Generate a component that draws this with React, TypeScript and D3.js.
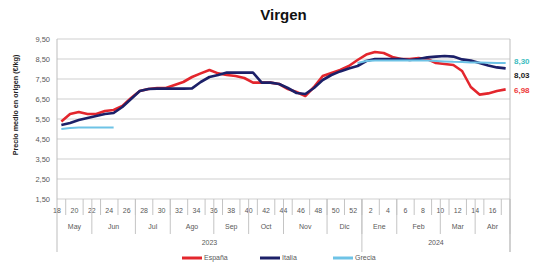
import React from 'react';
import * as d3 from 'd3';

// semanas: 2023 (18-52) y 2024 (1-17)
const weeks = [
  18, 19, 20, 21, 22, 23, 24, 25, 26, 27, 28, 29, 30, 31, 32, 33, 34, 35, 36, 37, 38, 39, 40, 41, 42, 43, 44, 45, 46, 47, 48, 49, 50, 51, 52,
  1, 2, 3, 4, 5, 6, 7, 8, 9, 10, 11, 12, 13, 14, 15, 16, 17,
];
const months = ['May', 'Jun', 'Jul', 'Ago', 'Sep', 'Oct', 'Nov', 'Dic', 'Ene', 'Feb', 'Mar', 'Abr'];
const monthWeeks = [4, 5, 4, 5, 4, 4, 5, 4, 4, 5, 4, 4];
const years = ['2023', '2024'];
const yearWeeks = [35, 17];

const espana = [
  5.37, 5.75, 5.85, 5.75, 5.75, 5.9, 5.95, 6.15, 6.55, 6.9, 7.0, 7.05, 7.05, 7.2, 7.35, 7.6, 7.78, 7.95,
  7.78, 7.7, 7.65, 7.55, 7.32, 7.32, 7.32, 7.25, 7.0, 6.85, 6.65, 7.1, 7.65, 7.8, 7.95, 8.15, 8.45,
  8.72, 8.85, 8.8, 8.6, 8.5, 8.5, 8.55, 8.5, 8.3, 8.25, 8.2, 7.9, 7.1, 6.72, 6.78, 6.9, 6.98,
];
const italia = [
  5.2, 5.3, 5.45, 5.55, 5.65, 5.75, 5.8, 6.1, 6.5, 6.9, 7.0, 7.02, 7.02, 7.02, 7.02, 7.03, 7.35, 7.6,
  7.7, 7.82, 7.82, 7.82, 7.82, 7.32, 7.32, 7.25, 7.05, 6.8, 6.75, 7.05, 7.45, 7.7, 7.88, 8.03, 8.15,
  8.4, 8.5, 8.5, 8.5, 8.5, 8.45, 8.5, 8.58, 8.62, 8.65, 8.62, 8.48, 8.42, 8.3, 8.18, 8.08, 8.03,
];
const grecia: (number | null)[] = [
  5.0, 5.05, 5.08, 5.08, 5.08, 5.08, 5.08, null, null, null, null, null, null, null, null, null, null, null,
  null, null, null, null, null, null, null, null, null, null, null, null, null, null, null, null, 8.3,
  8.4, 8.42, 8.42, 8.42, 8.42, 8.42, 8.42, 8.42, 8.4, 8.38, 8.36, 8.35, 8.33, 8.32, 8.31, 8.3, 8.3,
];
const yTicks = [1.5, 2.5, 3.5, 4.5, 5.5, 6.5, 7.5, 8.5, 9.5];

const series = [
  { name: 'España', values: espana, color: '#e3262d', width: 2.6, label: '6,98', labelColor: '#ee3a3a', dy: 1 },
  { name: 'Italia', values: italia, color: '#1c2068', width: 2.6, label: '8,03', labelColor: '#1a1a1a', dy: 7 },
  { name: 'Grecia', values: grecia, color: '#6ec3e6', width: 2, label: '8,30', labelColor: '#3dbdc0', dy: -2 },
];

const font = '"Liberation Sans", Arial, sans-serif';
const grey = '#595959';

export default function App() {
  const left = 57;
  const right = 510;
  const top = 39;
  const bottom = 199;

  const x = d3.scaleBand<number>().domain(d3.range(weeks.length)).range([left, right]).paddingInner(0).paddingOuter(0);
  const bw = x.bandwidth();
  const y = d3.scaleLinear().domain([1.5, 9.5]).range([bottom, top]);
  const fmt = (v: number) => v.toFixed(2).replace('.', ',');

  const line = d3
    .line<number | null>()
    .defined((d) => d !== null)
    .x((_, i) => (x(i) as number) + bw / 2)
    .y((d) => y(d as number));

  const monthEdges = d3.cumsum(monthWeeks);
  const monthStarts = [0, ...Array.from(monthEdges).slice(0, -1)];
  const yearEdges = d3.cumsum(yearWeeks);
  const yearStarts = [0, ...Array.from(yearEdges).slice(0, -1)];
  const edge = (i: number) => (i >= weeks.length ? right : (x(i) as number));

  const legendPos = [182, 260, 333];

  return (
    <svg width={534} height={268} style={{ position: 'absolute', left: 0, top: 0, background: '#fff' }} fontFamily={font}>
      <text x={(left + right) / 2} y={20} textAnchor="middle" fontSize={15} fontWeight="bold" fill="#111">
        Virgen
      </text>

      {yTicks.map((t) => (
        <g key={t}>
          <line x1={left} x2={right} y1={y(t)} y2={y(t)} stroke="#cfcfcf" strokeWidth={1} />
          <text x={50} y={y(t)} dy="0.35em" textAnchor="end" fontSize={7.5} fill={grey}>
            {fmt(t)}
          </text>
        </g>
      ))}

      <text transform={`translate(18,${(top + bottom) / 2 - 14}) rotate(-90)`} textAnchor="middle" fontSize={7.2} fontWeight="bold" fill="#222">
        Precio medio en origen (€/kg)
      </text>

      {/* eje de categorías */}
      <line x1={left} x2={left} y1={top} y2={252} stroke="#bdbdbd" />
      <line x1={right} x2={right} y1={top} y2={252} stroke="#bdbdbd" />
      {weeks.map((w, i) =>
        i % 2 === 0 ? (
          <text key={'w' + i} x={x(i) as number} y={211} dy="0.35em" textAnchor="middle" fontSize={7} fill={grey}>
            {w}
          </text>
        ) : (
          <line key={'t' + i} x1={x(i) as number} x2={x(i) as number} y1={bottom} y2={215} stroke="#c4c4c4" />
        )
      )}
      {months.map((m, k) => {
        const a = edge(monthStarts[k]);
        const b = edge(monthEdges[k]);
        return (
          <g key={m}>
            <line x1={b} x2={b} y1={bottom} y2={234} stroke="#c4c4c4" />
            <text x={(a + b) / 2} y={227} dy="0.35em" textAnchor="middle" fontSize={7} fill={grey}>
              {m}
            </text>
          </g>
        );
      })}
      {years.map((yr, k) => {
        const a = edge(yearStarts[k]);
        const b = edge(yearEdges[k]);
        return (
          <g key={yr}>
            <line x1={b} x2={b} y1={bottom} y2={252} stroke="#c4c4c4" />
            <text x={(a + b) / 2} y={243} dy="0.35em" textAnchor="middle" fontSize={7} fill={grey}>
              {yr}
            </text>
          </g>
        );
      })}

      {series.map((s) => (
        <path key={s.name} d={line(s.values) || ''} fill="none" stroke={s.color} strokeWidth={s.width} strokeLinejoin="round" />
      ))}

      {series.map((s) => {
        const last = s.values[s.values.length - 1] as number;
        return (
          <text key={'l' + s.name} x={514} y={y(last) + s.dy} dy="0.35em" fontSize={8} fontWeight="bold" fill={s.labelColor}>
            {s.label}
          </text>
        );
      })}

      {series.map((s, k) => (
        <g key={'lg' + s.name} transform={`translate(${legendPos[k]},258)`}>
          <line x1={0} x2={20} y1={0} y2={0} stroke={s.color} strokeWidth={3} />
          <text x={22} y={0} dy="0.35em" fontSize={7} fill={grey}>
            {s.name}
          </text>
        </g>
      ))}
    </svg>
  );
}
